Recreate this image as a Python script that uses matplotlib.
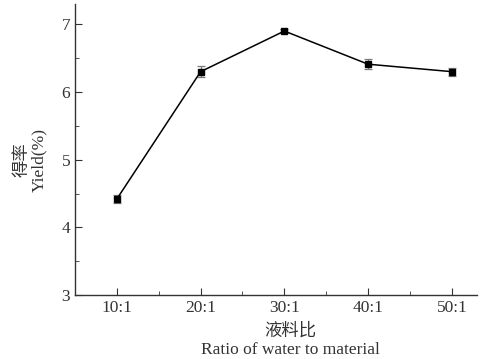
import matplotlib
matplotlib.use("Agg")
import matplotlib.pyplot as plt
from matplotlib.ticker import MultipleLocator

# 液料比 vs 得率
ratios = ["10:1", "20:1", "30:1", "40:1", "50:1"]
yield_pct = [4.42, 6.30, 6.90, 6.41, 6.30]
yield_err = [0.06, 0.08, 0.03, 0.07, 0.06]

plt.rcParams['font.family'] = ['Liberation Serif', 'Noto Sans CJK SC']

fig = plt.figure(figsize=(4.82, 3.59), dpi=100)
ax = fig.add_axes([0.1556, 0.178, 0.834, 0.811])

pos = list(range(1, len(ratios) + 1))
ax.errorbar(pos, yield_pct, yerr=yield_err, color='black', lw=1.1,
            marker='s', ms=4.5, mfc='black', mec='black',
            ecolor='#7a7a7a', elinewidth=0.9, capsize=3, capthick=0.9)

ax.set_xlim(0.5, 5.3)
ax.set_ylim(3, 7.3)
ax.set_xticks(pos)
ax.set_xticklabels(ratios)
ax.set_xticks([1.5, 2.5, 3.5, 4.5], minor=True)
ax.yaxis.set_major_locator(MultipleLocator(1))
ax.yaxis.set_minor_locator(MultipleLocator(0.5))

for s in ['top', 'right']:
    ax.spines[s].set_visible(False)
for s in ['left', 'bottom']:
    ax.spines[s].set_linewidth(1.0)
    ax.spines[s].set_color('#333333')

ax.tick_params(which='both', direction='in', colors='#333333', labelsize=12.5)
ax.tick_params(which='major', length=5)
ax.tick_params(which='minor', length=3)
for lb in ax.get_xticklabels() + ax.get_yticklabels():
    lb.set_color('#333333')

ax.set_xlabel("液料比\nRatio of water to material", fontsize=12.5, color='#333333',
              linespacing=1.2)
ax.set_ylabel("得率\nYield(%)", fontsize=12.5, color='#333333', linespacing=1.1)
ax.xaxis.set_label_coords(0.535, -0.097)
ax.yaxis.set_label_coords(-0.068, 0.465)

fig.savefig("out.png", dpi=100)
